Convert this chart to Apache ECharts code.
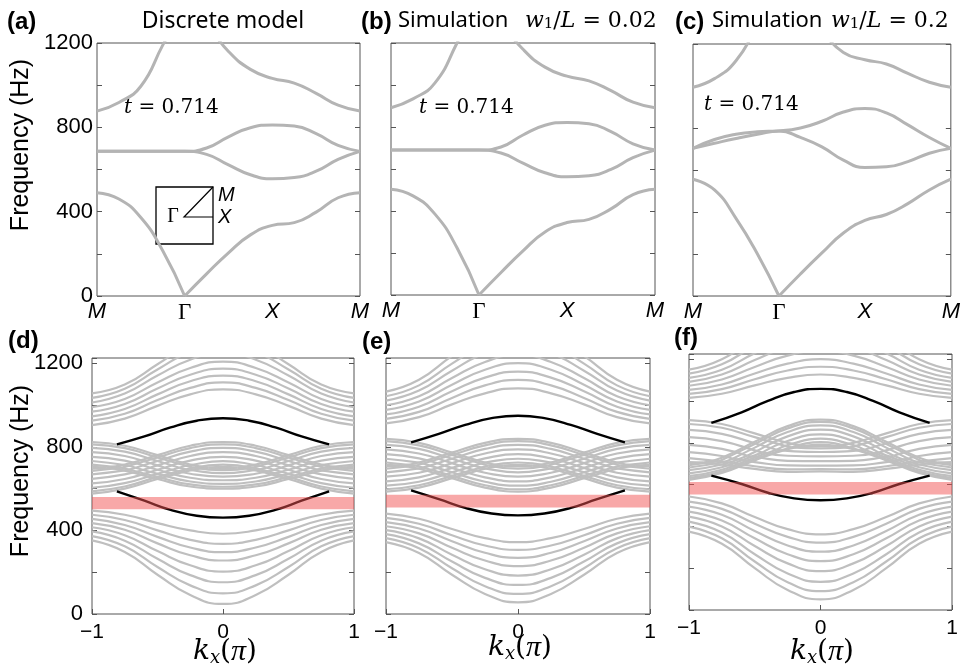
<!DOCTYPE html>
<html><head><meta charset="utf-8">
<script src="https://cdn.jsdelivr.net/npm/echarts@6/dist/echarts.min.js"></script>
<style>html,body{margin:0;padding:0;background:#fff}#c{width:963px;height:668px}</style>
</head><body><div id="c"></div>
<script>
// ---------- top panels: path M -> Gamma -> X -> M (x = 0..3) ----------
const topTickLabels = ['M', 'Γ', 'X', 'M'];
const topXLeft = [0, 0.25, 0.5, 0.75, 1];
const topXRight = [1, 1.25, 1.5, 1.75, 2, 2.25, 2.5, 2.75, 3];
const topXFull = [0, 0.25, 0.5, 0.75, 1, 1.25, 1.5, 1.75, 2, 2.25, 2.5, 2.75, 3];

const aBand1MG = [490, 460, 372, 215, 0];
const aBand1GM = [0, 105, 205, 290, 335, 348, 398, 466, 490];
const aBand2 = [686, 686, 686, 686, 686, 672, 622, 575, 556, 562, 592, 648, 686];
const aBand3 = [686, 686, 686, 686, 686, 702, 755, 798, 811, 806, 770, 714, 686];
const aBand4MG = [877, 918, 995, 1190, 1380];
const aBand4GM = [1400, 1290, 1160, 1075, 1032, 1010, 961, 905, 877];

const bBand1MG = [503, 472, 385, 225, 0];
const bBand1GM = [0, 107, 210, 300, 345, 360, 410, 478, 503];
const bBand2 = [690, 690, 690, 690, 690, 676, 628, 582, 563, 568, 598, 654, 690];
const bBand3 = [690, 690, 690, 690, 690, 705, 762, 808, 822, 816, 778, 720, 690];
const bBand4MG = [892, 934, 1010, 1200, 1420];
const bBand4GM = [1460, 1300, 1170, 1085, 1042, 1020, 973, 918, 892];

const cBand1MG = [556, 505, 370, 200, 0];
const cBand1GM = [0, 105, 205, 300, 360, 388, 440, 505, 556];
const cBand2 = [703, 727, 750, 770, 786, 755, 710, 647, 612, 615, 640, 680, 703];
const cBand3 = [703, 745, 770, 782, 786, 800, 832, 876, 893, 872, 815, 755, 703];
const cBand4MG = [994, 1035, 1120, 1290, 1480];
const cBand4GM = [1500, 1380, 1260, 1160, 1125, 1105, 1060, 1018, 994];

// ---------- bottom panels: ribbon spectra, values at kx = 0, .25, .5, .75, 1 (symmetric in kx) ----------
const kHalf = [0, 0.25, 0.5, 0.75, 1];
// kx where the upper and lower middle-band lines touch
const midTouchK = [0.111, 0.222, 0.333, 0.444, 0.556, 0.667, 0.778, 0.889];

const dUpper = [
  [1075, 1051, 996, 935, 904], [1108, 1082, 1024, 958, 925], [1141, 1114, 1051, 981, 946],
  [1174, 1145, 1079, 1005, 968], [1208, 1177, 1108, 1029, 990], [1250, 1217, 1141, 1055, 1012],
  [1290, 1254, 1170, 1078, 1034], [1330, 1290, 1195, 1098, 1056]
];
const dMidUp = [
  [704, 715, 760, 805, 823], [715, 704, 749, 794, 812], [732, 713, 732, 777, 795], [752, 734, 711, 756, 775],
  [775, 756, 711, 734, 752], [795, 777, 732, 713, 732], [812, 794, 749, 704, 715], [823, 805, 760, 715, 704]
];
const dMidLow = [
  [697, 687, 646, 600, 576], [688, 697, 656, 610, 587], [674, 689, 671, 626, 604], [657, 671, 690, 646, 625],
  [640, 652, 690, 668, 647], [623, 634, 671, 687, 668], [609, 620, 656, 696, 685], [600, 610, 646, 686, 696]
];
const dTouchV = [700, 700, 700, 700, 700, 700, 700, 700];
const dLower = [
  [48, 91, 188, 297, 352], [99, 137, 225, 324, 373], [152, 186, 264, 351, 395], [203, 233, 301, 377, 415],
  [256, 281, 338, 403, 435], [296, 318, 369, 426, 455], [336, 355, 400, 450, 475], [384, 400, 435, 475, 495]
];
const dEdgeK = [0, 0.2, 0.4, 0.6, 0.81];
const dEdgeUp = [937, 925, 893, 850, 812];
const dEdgeLow = [461, 470, 498, 542, 587];
const dGap = [501, 560];

const eUpper = [
  [1080, 1056, 1003, 942, 912], [1120, 1094, 1034, 967, 934], [1160, 1131, 1066, 992, 955],
  [1200, 1169, 1097, 1017, 977], [1240, 1206, 1129, 1042, 999], [1285, 1248, 1164, 1069, 1021],
  [1330, 1290, 1198, 1094, 1042], [1380, 1336, 1235, 1121, 1064]
];
const eMidUp = [
  [714, 725, 772, 819, 838], [725, 714, 761, 807, 827], [743, 724, 743, 790, 809], [765, 745, 722, 768, 788],
  [788, 768, 722, 745, 765], [809, 790, 743, 724, 743], [827, 807, 761, 714, 725], [838, 819, 772, 725, 714]
];
const eMidLow = [
  [706, 695, 650, 605, 586], [695, 706, 661, 616, 597], [678, 697, 678, 633, 614], [657, 676, 699, 654, 635],
  [635, 654, 699, 676, 657], [614, 633, 678, 697, 678], [597, 616, 661, 706, 695], [586, 605, 650, 695, 706]
];
const eTouchV = [710, 710, 710, 710, 710, 710, 710, 710];
const eLower = [
  [56, 96, 188, 292, 344], [96, 133, 219, 315, 363], [139, 173, 251, 338, 382], [184, 214, 284, 362, 401],
  [229, 256, 317, 386, 420], [269, 293, 348, 409, 440], [307, 328, 377, 432, 460], [344, 363, 407, 456, 480]
];
const eEdgeK = [0, 0.2, 0.4, 0.6, 0.81];
const eEdgeUp = [949, 937, 905, 862, 821];
const eEdgeLow = [472, 481, 508, 550, 592];
const eGap = [510, 571];

const fUpper = [
  [1127, 1111, 1075, 1035, 1015], [1164, 1146, 1104, 1057, 1034], [1200, 1179, 1132, 1079, 1053],
  [1240, 1217, 1163, 1103, 1073], [1285, 1258, 1196, 1127, 1092], [1330, 1299, 1229, 1150, 1111],
  [1380, 1345, 1265, 1176, 1131], [1430, 1391, 1301, 1200, 1150]
];
const fMidUp = [
  [792, 800, 845, 890, 909], [803, 782, 827, 872, 890], [820, 789, 798, 843, 862], [840, 809, 764, 808, 827],
  [863, 831, 756, 771, 790], [883, 852, 777, 737, 755], [900, 869, 794, 718, 727], [911, 880, 805, 729, 708]
];
const fMidLow = [
  [784, 769, 716, 656, 623], [773, 774, 721, 662, 631], [756, 761, 730, 671, 641], [735, 738, 740, 683, 654],
  [712, 714, 732, 696, 669], [691, 692, 708, 707, 682], [674, 673, 688, 710, 693], [663, 661, 675, 696, 700]
];
const fTouchV = [785, 778, 767, 753, 738, 724, 712, 705];
const fLower = [
  [51, 96, 200, 317, 375], [90, 133, 232, 343, 399], [135, 175, 267, 371, 423], [186, 223, 306, 400, 447],
  [234, 267, 343, 428, 471], [279, 309, 378, 456, 495], [322, 350, 413, 484, 519], [362, 387, 445, 510, 543]
];
const fEdgeK = [0, 0.2, 0.4, 0.6, 0.83];
const fEdgeUp = [1058, 1043, 1001, 946, 895];
const fEdgeLow = [525, 534, 561, 603, 643];
const fGap = [553, 612];

const yTickLabels = [0, 400, 800, 1200];

// ---------- build ----------
const GRAY_T = '#b4b4b4', GRAY_B = '#bfbfbf';
function pts(xs, ys) { return xs.map((x, i) => [x, ys[i]]); }
function sym(ks, vs) {
  const out = [];
  for (let i = ks.length - 1; i > 0; i--) out.push([-ks[i], vs[i]]);
  for (let i = 0; i < ks.length; i++) out.push([ks[i], vs[i]]);
  return out;
}
function splitSym(half, tk) {
  const inner = half.filter(p => p[0] <= tk + 1e-9);
  const outer = half.filter(p => p[0] >= tk - 1e-9);
  const innerFull = inner.slice(1).reverse().map(p => [-p[0], p[1]]).concat(inner);
  const outerL = outer.slice().reverse().map(p => [-p[0], p[1]]);
  return [innerFull, outer, outerL];
}
function ln(gi, data, color, width, z) {
  return { type: 'line', xAxisIndex: gi, yAxisIndex: gi, data: data, smooth: 0.5, symbol: 'none',
    lineStyle: { color: color, width: width }, silent: true, z: z || 2, clip: true };
}

const grids = [
  { left: 97, top: 43, width: 263, height: 253 },
  { left: 391, top: 43, width: 264, height: 252 },
  { left: 693, top: 44, width: 263, height: 252 },
  { left: 92, top: 358, width: 262, height: 256 },
  { left: 386, top: 358, width: 264, height: 256 },
  { left: 689, top: 354, width: 263, height: 256 }
].map(g => Object.assign({ show: true, borderColor: '#555', borderWidth: 1, backgroundColor: 'transparent' }, g));

const xAxes = [], yAxes = [], yAxesR = [];
for (let i = 0; i < 6; i++) {
  const top = i < 3;
  xAxes.push(top ? {
    gridIndex: i, type: 'value', min: 0, max: 3, interval: 1,
    axisLine: { show: false, onZero: false }, axisTick: { show: false }, splitLine: { show: false },
    axisLabel: { margin: 5, formatter: v => (v === 1 ? '{g|' : '{i|') + topTickLabels[Math.round(v)] + '}',
      rich: { i: { fontStyle: 'italic', fontFamily: 'Liberation Sans', fontSize: 22, color: '#000' },
              g: { fontFamily: 'Liberation Serif', fontSize: 23, color: '#000' } } }
  } : {
    gridIndex: i, type: 'value', min: -1, max: 1, interval: 1,
    axisLine: { show: false, onZero: false }, splitLine: { show: false },
    axisTick: { show: true, inside: true, length: 5, lineStyle: { color: '#555' } },
    axisLabel: { margin: 8, color: '#000', fontFamily: 'Liberation Sans', fontSize: 21,
      formatter: v => v < 0 ? '\u2212' + (-v) : String(v) }
  });
  const yb = {
    gridIndex: i, type: 'value', min: 0, max: top ? 1200 : 1225, interval: 200,
    axisLine: { show: false, onZero: false }, splitLine: { show: false },
    axisTick: { show: true, inside: true, length: 5, lineStyle: { color: '#555' } }
  };
  yAxes.push(Object.assign({}, yb, {
    position: 'left',
    axisLabel: { show: i === 0 || i === 3, margin: top ? 4 : 9, color: '#000', fontFamily: 'Liberation Sans', fontSize: 22,
      formatter: v => yTickLabels.indexOf(v) >= 0 ? String(v) : '' }
  }));
  yAxesR.push(Object.assign({}, yb, { position: 'right', axisLabel: { show: false } }));
}

const series = [];
const tops = [
  [aBand1MG, aBand1GM, aBand2, aBand3, aBand4MG, aBand4GM],
  [bBand1MG, bBand1GM, bBand2, bBand3, bBand4MG, bBand4GM],
  [cBand1MG, cBand1GM, cBand2, cBand3, cBand4MG, cBand4GM]
];
tops.forEach((b, gi) => {
  series.push(ln(gi, pts(topXLeft, b[0]), GRAY_T, 3));
  series.push(ln(gi, pts(topXRight, b[1]), GRAY_T, 3));
  series.push(ln(gi, pts(topXFull, b[2]), GRAY_T, 3));
  series.push(ln(gi, pts(topXFull, b[3]), GRAY_T, 3));
  series.push(ln(gi, pts(topXLeft, b[4]), GRAY_T, 3));
  series.push(ln(gi, pts(topXRight, b[5]), GRAY_T, 3));
});

const bottoms = [
  { up: dUpper, mu: dMidUp, ml: dMidLow, tv: dTouchV, low: dLower, ek: dEdgeK, eu: dEdgeUp, el: dEdgeLow, gap: dGap },
  { up: eUpper, mu: eMidUp, ml: eMidLow, tv: eTouchV, low: eLower, ek: eEdgeK, eu: eEdgeUp, el: eEdgeLow, gap: eGap },
  { up: fUpper, mu: fMidUp, ml: fMidLow, tv: fTouchV, low: fLower, ek: fEdgeK, eu: fEdgeUp, el: fEdgeLow, gap: fGap }
];
bottoms.forEach((p, j) => {
  const gi = j + 3;
  p.up.concat(p.low).forEach(arr => series.push(ln(gi, sym(kHalf, arr), GRAY_B, 2.2)));
  [p.mu, p.ml].forEach(group => group.forEach((arr, idx) => {
    const half = pts(kHalf, arr).concat([[midTouchK[idx], p.tv[idx]]]).sort((a, b) => a[0] - b[0]);
    splitSym(half, midTouchK[idx]).forEach(seg => series.push(ln(gi, seg, GRAY_B, 2.2)));
  }));
  series.push(ln(gi, sym(p.ek, p.eu), '#000', 2.4, 4));
  series.push(ln(gi, sym(p.ek, p.el), '#000', 2.4, 4));
  series.push({
    type: 'custom', xAxisIndex: gi, yAxisIndex: gi, z: 6, silent: true,
    data: [[p.gap[0], p.gap[1]]],
    renderItem: (params, api) => {
      const a = api.coord([-1, api.value(1)]);
      const b = api.coord([1, api.value(0)]);
      return { type: 'rect', shape: { x: a[0], y: a[1], width: b[0] - a[0], height: b[1] - a[1] },
        style: { fill: 'rgba(241,81,81,0.5)' } };
    }
  });
});

// ---------- texts ----------
function txt(x, y, text, font, extra) {
  return Object.assign({ type: 'text', x: x, y: y, silent: true,
    style: Object.assign({ text: text, fill: '#000', align: 'left', verticalAlign: 'middle' }, font) }, extra || {});
}
const bold = { fontSize: 24, fontWeight: 'bold', fontFamily: 'Liberation Sans' };
const title = { fontSize: 22, fontFamily: 'Noto Sans' };
const tFont = { fontSize: 20, fontFamily: 'DejaVu Serif', rich: {
  i: { fontStyle: 'italic', fontFamily: 'DejaVu Serif', fontSize: 20 }, n: { fontFamily: 'DejaVu Serif', fontSize: 20 } } };
const wRich = {
  v: { fontStyle: 'italic', fontFamily: 'DejaVu Serif', fontSize: 22 },
  s: { fontFamily: 'DejaVu Serif', fontSize: 15, verticalAlign: 'bottom', lineHeight: 10 },
  n: { fontFamily: 'DejaVu Serif', fontSize: 22 }
};
const kRich = {
  k: { fontStyle: 'italic', fontFamily: 'DejaVu Serif', fontSize: 28 },
  s: { fontStyle: 'italic', fontFamily: 'DejaVu Serif', fontSize: 18, verticalAlign: 'bottom', lineHeight: 9 },
  p: { fontStyle: 'italic', fontFamily: 'Liberation Serif', fontSize: 30 },
  n: { fontFamily: 'DejaVu Serif', fontSize: 28 }
};
const kText = '{k|k}{s|x}{n|(}{p|π}{n|)}';
const freq = { fontSize: 25, fontFamily: 'Liberation Sans', align: 'center' };

const graphic = [
  txt(7, 22, '(a)', bold),
  txt(223, 21, 'Discrete model', Object.assign({}, title, { fontSize: 23, align: 'center' })),
  txt(361, 22, '(b)', bold),
  txt(398, 21, 'Simulation', title),
  txt(525, 21, '{v|w}{s|1}{n|/}{v|L}{n| = 0.02}', { rich: wRich }),
  txt(675, 22, '(c)', bold),
  txt(712, 21, 'Simulation', title),
  txt(831, 21, '{v|w}{s|1}{n|/}{v|L}{n| = 0.2}', { rich: wRich }),
  txt(124, 108, '{i|t}{n| = 0.714}', tFont),
  txt(419, 108, '{i|t}{n| = 0.714}', tFont),
  txt(704, 105, '{i|t}{n| = 0.714}', tFont),
  txt(21, 145, 'Frequency (Hz)', freq, { rotation: Math.PI / 2 }),
  txt(21, 471, 'Frequency (Hz)', freq, { rotation: Math.PI / 2 }),
  txt(8, 341, '(d)', bold),
  txt(362, 342, '(e)', bold),
  txt(674, 338, '(f)', bold),
  txt(225, 652, kText, { rich: kRich, align: 'center' }),
  txt(520, 648, kText, { rich: kRich, align: 'center' }),
  txt(822, 652, kText, { rich: kRich, align: 'center' }),
  // Brillouin-zone inset in (a)
  { type: 'rect', silent: true, shape: { x: 156, y: 187, width: 57, height: 57 },
    style: { fill: 'none', stroke: '#000', lineWidth: 1.3 } },
  { type: 'polyline', silent: true, shape: { points: [[213, 187], [184, 217], [213, 217]] },
    style: { fill: 'none', stroke: '#000', lineWidth: 1.2 } },
  txt(173, 217, 'Γ', { fontSize: 20, fontFamily: 'Liberation Serif', align: 'center' }),
  txt(218, 195, 'M', { fontSize: 20, fontFamily: 'Liberation Sans', fontStyle: 'italic' }),
  txt(218, 217, 'X', { fontSize: 20, fontFamily: 'Liberation Sans', fontStyle: 'italic' })
];

const chart = echarts.init(document.getElementById('c'), null, { renderer: 'canvas' });
chart.setOption({
  animation: false,
  backgroundColor: '#fff',
  grid: grids,
  xAxis: xAxes,
  yAxis: yAxes.concat(yAxesR),
  series: series,
  graphic: graphic
});
</script></body></html>
